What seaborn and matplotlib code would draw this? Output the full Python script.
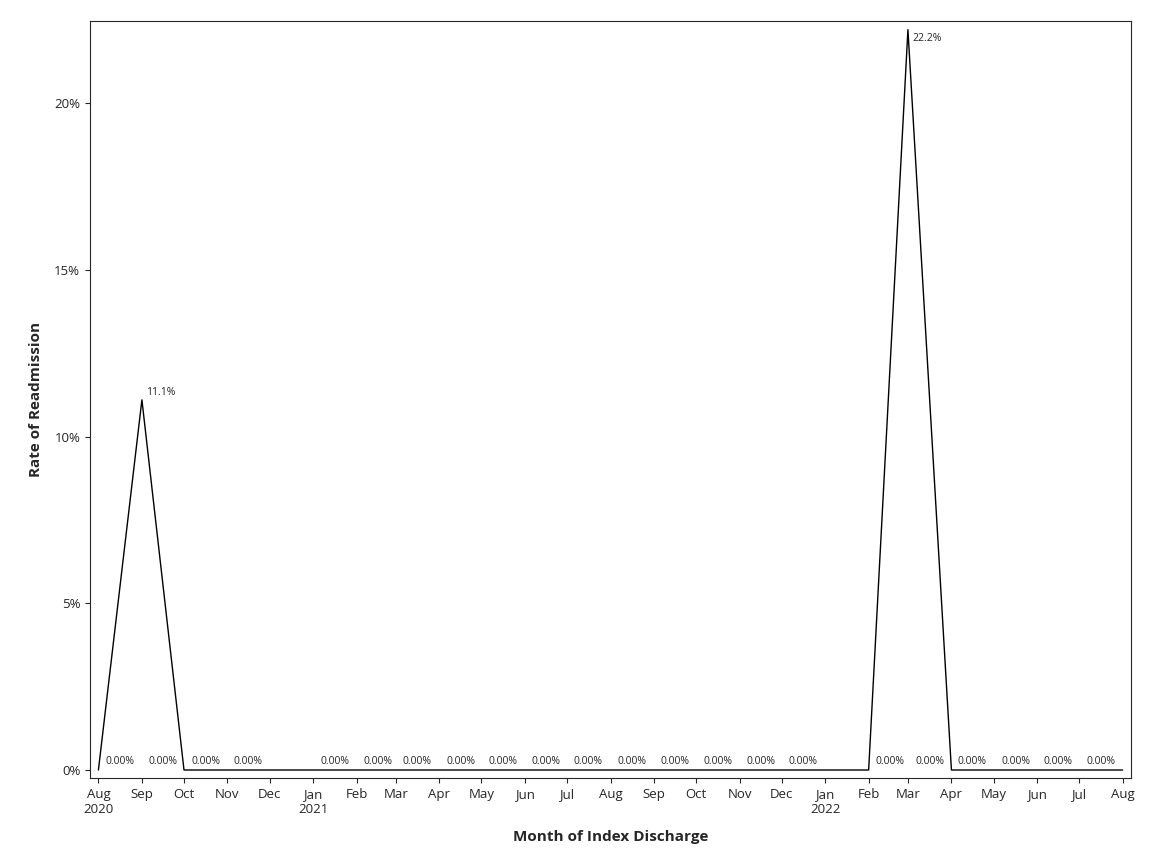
import matplotlib
matplotlib.use("Agg")
import matplotlib.pyplot as plt
import seaborn as sns
import pandas as pd

months = ["2020-08","2020-09","2020-10","2020-11","2020-12","2021-01","2021-02","2021-03","2021-04",
          "2021-05","2021-06","2021-07","2021-08","2021-09","2021-10","2021-11","2021-12",
          "2022-02","2022-03","2022-04","2022-05","2022-06","2022-07","2022-08"]
rates = [0.0,11.1,0.0,0.0,0.0,0.0,0.0,0.0,0.0,0.0,0.0,0.0,0.0,0.0,0.0,0.0,0.0,
         0.0,22.2,0.0,0.0,0.0,0.0,0.0]
labels = ["0.00%" if r == 0 else f"{r:.1f}%" for r in rates]
# label side: R = right of point, L = left of point
sides = ["R","R","L","L","L","R","R","R","R","R","R","R","R","R","R","R","R",
         "R","R","L","L","L","L","L"]

df = pd.DataFrame({"month": pd.to_datetime(months), "rate": rates})

sns.set_style("ticks")
plt.rcParams['font.family'] = ['Open Sans', 'DejaVu Sans']
fig = plt.figure(figsize=(11.52, 8.64), dpi=100)
ax = fig.add_axes([90/1152, 1-778/864, (1131-90)/1152, (778-21)/864])
sns.lineplot(data=df, x="month", y="rate", color="black", linewidth=1, ax=ax)
for d, r, l, s in zip(df["month"], df["rate"], labels, sides):
    if r == 0:
        off = (5, 6) if s == "R" else (-5, 6)
        ax.annotate(l, (d, r), xytext=off, textcoords="offset points",
                    fontsize=7.5, ha="left" if s == "R" else "right", va="center")
    elif r > 20:
        ax.annotate(l, (d, r), xytext=(3, -6), textcoords="offset points",
                    fontsize=7.5, ha="left", va="center")
    else:
        ax.annotate(l, (d, r), xytext=(3, 5), textcoords="offset points",
                    fontsize=7.5, ha="left", va="center")

ax.set_xlim(pd.Timestamp("2020-07-26"), pd.Timestamp("2022-08-07"))
ax.set_ylim(-0.24, 22.46)
ax.set_yticks([0, 5, 10, 15, 20])
ax.set_yticklabels(["0%", "5%", "10%", "15%", "20%"], fontsize=9.5)
ticks = pd.date_range("2020-08-01", "2022-08-01", freq="MS")
ax.set_xticks(ticks)
tl = []
for i, t in enumerate(ticks):
    s = t.strftime("%b")
    if i == 0 or t.month == 1:
        s += "\n" + t.strftime("%Y")
    tl.append(s)
ax.set_xticklabels(tl, fontsize=9.5)
ax.set_xlabel("Month of Index Discharge", fontsize=11, fontweight="bold", labelpad=10)
ax.set_ylabel("Rate of Readmission", fontsize=11, fontweight="bold", labelpad=8)
for s in ax.spines.values():
    s.set_linewidth(0.8)
fig.savefig("out.png", dpi=100)
